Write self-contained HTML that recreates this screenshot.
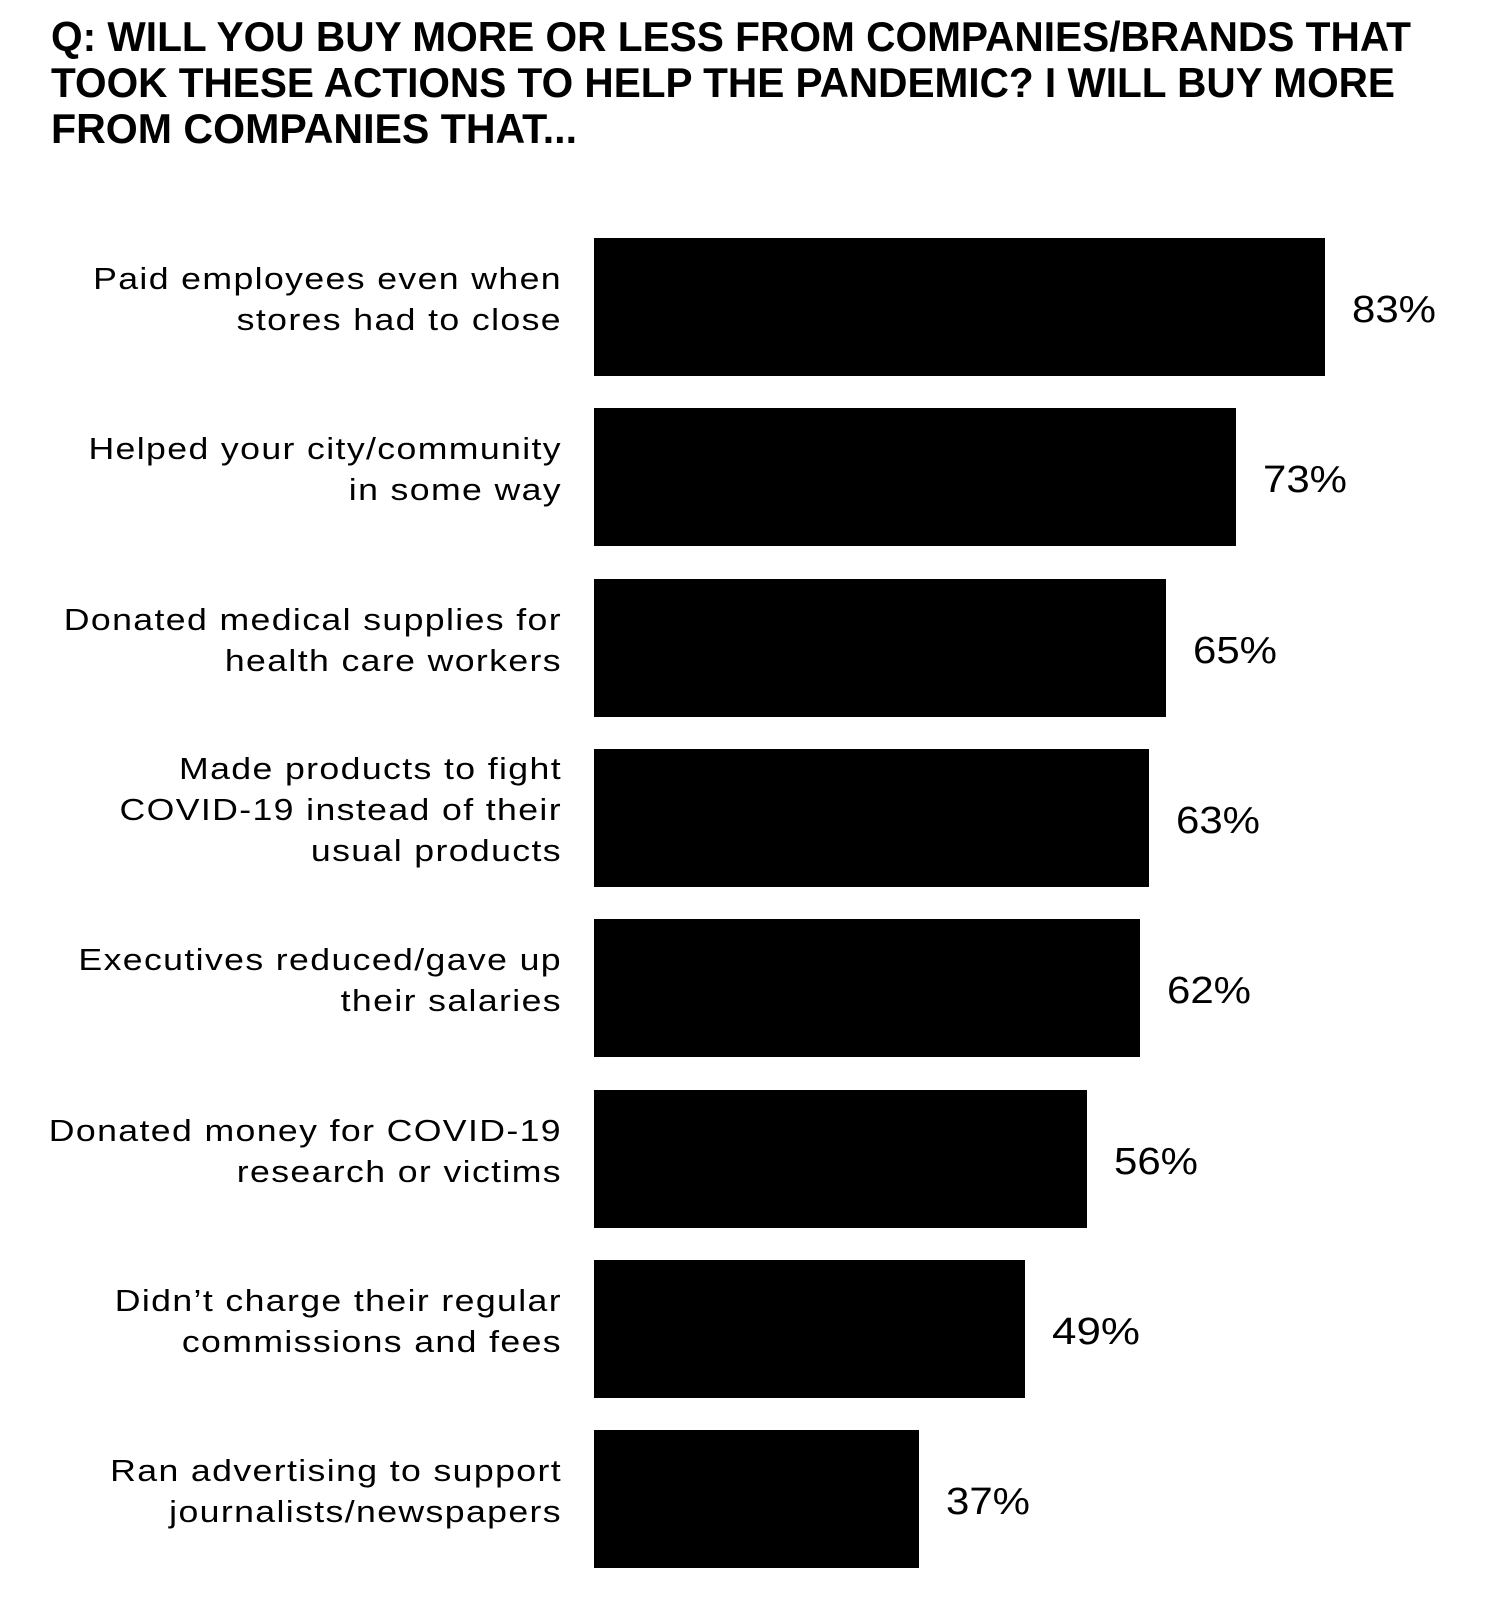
<!DOCTYPE html>
<html><head><meta charset="utf-8"><style>
html,body{margin:0;padding:0;background:#fff;}
svg{display:block;}
text{font-family:"Liberation Sans",sans-serif;fill:#000;}
.t{font-weight:bold;font-size:42px;}
.l{font-size:31px;letter-spacing:1.2px;text-anchor:end;}
.v{font-size:38px;}
</style></head><body>
<svg width="1497" height="1600" viewBox="0 0 1497 1600">
<text class="t" x="51" y="51" textLength="1360" lengthAdjust="spacingAndGlyphs">Q: WILL YOU BUY MORE OR LESS FROM COMPANIES/BRANDS THAT</text>
<text class="t" x="51" y="97" textLength="1344" lengthAdjust="spacingAndGlyphs">TOOK THESE ACTIONS TO HELP THE PANDEMIC? I WILL BUY MORE</text>
<text class="t" x="51" y="143" textLength="526" lengthAdjust="spacingAndGlyphs">FROM COMPANIES THAT...</text>

<rect x="594" y="238" width="731" height="138"/>
<rect x="594" y="408" width="642" height="138"/>
<rect x="594" y="579" width="572" height="138"/>
<rect x="594" y="749" width="555" height="138"/>
<rect x="594" y="919" width="546" height="138"/>
<rect x="594" y="1090" width="493" height="138"/>
<rect x="594" y="1260" width="431" height="138"/>
<rect x="594" y="1430" width="325" height="138"/>

<g>
<text class="v" x="1352" y="322" textLength="84" lengthAdjust="spacingAndGlyphs">83%</text>
<text class="v" x="1263" y="492" textLength="84" lengthAdjust="spacingAndGlyphs">73%</text>
<text class="v" x="1193" y="663" textLength="84" lengthAdjust="spacingAndGlyphs">65%</text>
<text class="v" x="1176" y="833" textLength="84" lengthAdjust="spacingAndGlyphs">63%</text>
<text class="v" x="1167" y="1003" textLength="84" lengthAdjust="spacingAndGlyphs">62%</text>
<text class="v" x="1114" y="1174" textLength="84" lengthAdjust="spacingAndGlyphs">56%</text>
<text class="v" x="1052" y="1344" textLength="88" lengthAdjust="spacingAndGlyphs">49%</text>
<text class="v" x="946" y="1514" textLength="84" lengthAdjust="spacingAndGlyphs">37%</text>
</g>

<g transform="translate(562 -2) scale(1.15 1) translate(-562 0)">
<text class="l" x="562" y="291">Paid employees even when</text>
<text class="l" x="562" y="332">stores had to close</text>
<text class="l" x="562" y="461">Helped your city/community</text>
<text class="l" x="562" y="502">in some way</text>
<text class="l" x="562" y="632">Donated medical supplies for</text>
<text class="l" x="562" y="673">health care workers</text>
<text class="l" x="562" y="781">Made products to fight</text>
<text class="l" x="562" y="822">COVID-19 instead of their</text>
<text class="l" x="562" y="863">usual products</text>
<text class="l" x="562" y="972">Executives reduced/gave up</text>
<text class="l" x="562" y="1013">their salaries</text>
<text class="l" x="562" y="1143">Donated money for COVID-19</text>
<text class="l" x="562" y="1184">research or victims</text>
<text class="l" x="562" y="1313">Didn’t charge their regular</text>
<text class="l" x="562" y="1354">commissions and fees</text>
<text class="l" x="562" y="1483">Ran advertising to support</text>
<text class="l" x="562" y="1524">journalists/newspapers</text>
</g>
</svg>
</body></html>
